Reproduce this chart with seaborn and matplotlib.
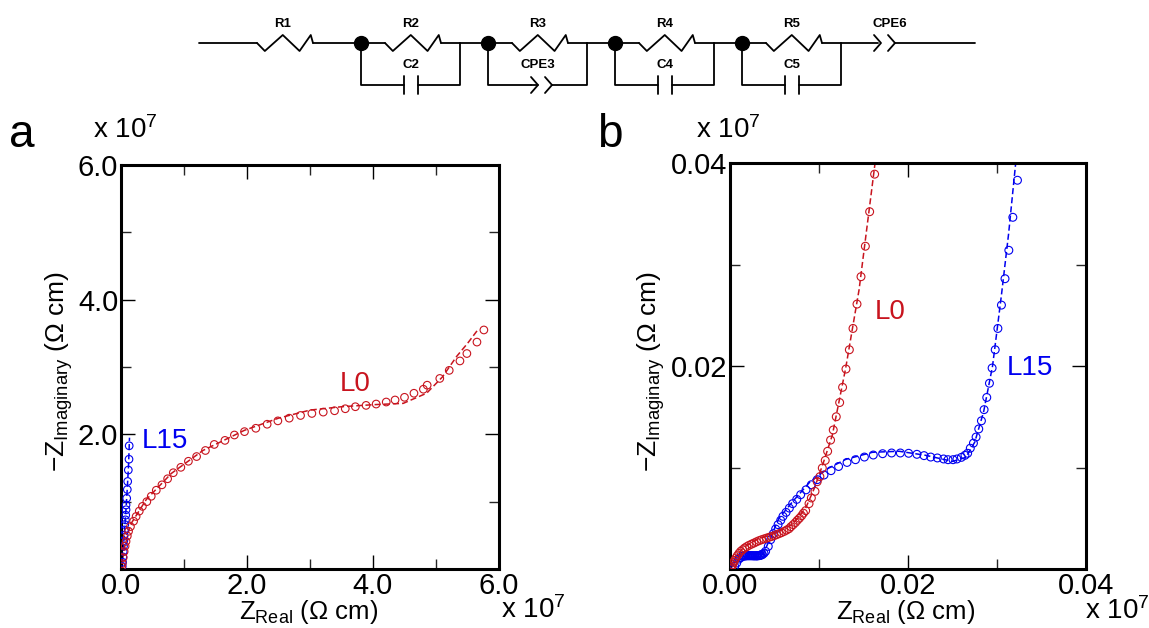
import matplotlib
matplotlib.use('Agg')
import matplotlib.pyplot as plt
import seaborn as sns

# all values in units of 1e7 ohm cm
a_l0_x = [5.76, 5.65, 5.49, 5.38, 5.21, 5.06, 4.86, 4.80, 4.65, 4.50, 4.35, 4.21, 4.05, 3.89, 3.72, 3.56, 3.39, 3.21,
          3.03, 2.85, 2.67, 2.49, 2.32, 2.14, 1.96, 1.80, 1.65, 1.48, 1.34, 1.20, 1.07, 0.95, 0.83, 0.74, 0.65, 0.56,
          0.48, 0.41, 0.34, 0.29, 0.24, 0.20, 0.15, 0.12, 0.10, 0.08, 0.065, 0.05, 0.035, 0.02, 0.01]
a_l0_y = [3.55, 3.37, 3.20, 3.09, 2.95, 2.83, 2.73, 2.67, 2.61, 2.55, 2.51, 2.48, 2.45, 2.43, 2.41, 2.38, 2.35, 2.33,
          2.31, 2.28, 2.24, 2.20, 2.15, 2.09, 2.04, 1.99, 1.91, 1.85, 1.76, 1.67, 1.60, 1.51, 1.43, 1.34, 1.25, 1.17,
          1.08, 1.00, 0.93, 0.86, 0.78, 0.71, 0.63, 0.56, 0.49, 0.41, 0.34, 0.26, 0.17, 0.08, 0.03]
a_l0_fit_x = [0.0, 0.05, 0.15, 0.4, 0.8, 1.3, 1.96, 2.5, 3.0, 3.5, 4.0, 4.48, 4.85, 5.1, 5.33, 5.5, 5.67]
a_l0_fit_y = [0.0, 0.3, 0.66, 1.03, 1.42, 1.76, 2.06, 2.24, 2.36, 2.41, 2.44, 2.46, 2.61, 2.85, 3.16, 3.35, 3.56]
a_l15_x = [0.13, 0.127, 0.116, 0.106, 0.10, 0.09, 0.08, 0.08, 0.075, 0.07, 0.06, 0.055, 0.05, 0.045, 0.04, 0.035, 0.03,
           0.025, 0.02]
a_l15_y = [1.83, 1.63, 1.47, 1.30, 1.18, 1.05, 0.95, 0.88, 0.80, 0.73, 0.66, 0.58, 0.50, 0.42, 0.34, 0.26, 0.18, 0.10,
           0.04]
a_l15_fit_x = [0.0, 0.03, 0.08, 0.10, 0.12, 0.135]
a_l15_fit_y = [0.0, 0.2, 0.9, 1.2, 1.55, 1.95]

b_l0_x = [0.01625, 0.01569, 0.01521, 0.01472, 0.01427, 0.01382, 0.01341, 0.01303, 0.01265, 0.01232, 0.01194, 0.0116,
          0.0113, 0.01097, 0.0107, 0.01037, 0.0101, 0.0098, 0.00955, 0.00914, 0.00888, 0.0085, 0.00825, 0.00805,
          0.0078, 0.00757, 0.00735, 0.0071, 0.00685, 0.00663, 0.00635, 0.00607, 0.00578, 0.0055, 0.00522, 0.00494,
          0.00466, 0.00438, 0.0041, 0.00382, 0.00354, 0.00326, 0.00298, 0.0027, 0.00242, 0.00213, 0.00188, 0.00165,
          0.00142, 0.0012, 0.001, 0.00082, 0.00066, 0.00052, 0.0004, 0.0003, 0.0002, 0.0001]
b_l0_y = [0.0389, 0.0352, 0.0318, 0.0288, 0.0261, 0.0237, 0.0216, 0.0197, 0.0179, 0.0164, 0.015, 0.0137, 0.0127, 0.0116,
          0.0107, 0.00995, 0.0091, 0.0086, 0.00765, 0.007, 0.00644, 0.00575, 0.0055, 0.00525, 0.005, 0.0048, 0.00458,
          0.00437, 0.00417, 0.00397, 0.00383, 0.0037, 0.00358, 0.00348, 0.00338, 0.00328, 0.0032, 0.00312, 0.00304,
          0.00296, 0.00288, 0.00279, 0.00268, 0.00256, 0.00245, 0.00233, 0.0022, 0.00207, 0.0019, 0.00174, 0.00153,
          0.00131, 0.00108, 0.00085, 0.00065, 0.00043, 0.00025, 0.0001]
b_l0_fit_x = [0.0, 0.0005, 0.0015, 0.003, 0.005, 0.007, 0.0085, 0.0095, 0.0105, 0.0115, 0.013, 0.0145, 0.0163]
b_l0_fit_y = [0.0, 0.001, 0.0021, 0.0029, 0.0035, 0.0044, 0.006, 0.008, 0.0105, 0.0132, 0.0198, 0.0275, 0.04]

b_l15_x = [0.0323, 0.03178, 0.03133, 0.0309, 0.0305, 0.0301, 0.0298, 0.02945, 0.02915, 0.02885, 0.02855, 0.02825,
           0.02795, 0.02765, 0.02735, 0.027, 0.0267, 0.0264, 0.026, 0.0255, 0.02506, 0.0245, 0.024, 0.0233, 0.02255,
           0.0218, 0.021, 0.02007, 0.01914, 0.01816, 0.01715, 0.0161, 0.0151, 0.0141, 0.01315, 0.0122, 0.01135,
           0.01056, 0.0098, 0.00914, 0.00854, 0.00794, 0.0075, 0.00704, 0.00667, 0.0063, 0.00595, 0.0057, 0.0054,
           0.00513, 0.00487, 0.00457, 0.0043, 0.004, 0.00382, 0.00363, 0.00345, 0.00325, 0.00307, 0.0029, 0.0027,
           0.0025, 0.00232, 0.00213, 0.00195, 0.00177, 0.00158, 0.00139, 0.0012, 0.001, 0.00075, 0.00052,
           0.0036, 0.0034, 0.0033, 0.0031, 0.0030, 0.0028, 0.0026, 0.0024, 0.0022, 0.0020, 0.0018, 0.0016, 0.0014]
b_l15_y = [0.0383, 0.03465, 0.0314, 0.0286, 0.026, 0.0237, 0.0216, 0.0198, 0.0183, 0.0169, 0.0157, 0.0146, 0.0138, 0.013,
           0.0124, 0.0119, 0.0114, 0.0112, 0.011, 0.01084, 0.01077, 0.01077, 0.01084, 0.01094, 0.01103, 0.01117, 0.0113,
           0.0114, 0.01143, 0.01143, 0.01136, 0.01123, 0.01103, 0.01077, 0.0105, 0.0101, 0.00969, 0.00926, 0.0088,
           0.0083, 0.0078, 0.00732, 0.00686, 0.00644, 0.006, 0.00558, 0.00519, 0.0048, 0.00437, 0.00394, 0.00348,
           0.00289, 0.00223, 0.00174, 0.00155, 0.00141, 0.00135, 0.00131, 0.0013, 0.0013, 0.0013, 0.00131, 0.00131,
           0.00131, 0.00131, 0.0013, 0.00128, 0.00125, 0.00112, 0.00098, 0.00059, 0.00026,
           0.00145, 0.00137, 0.00133, 0.00131, 0.0013, 0.0013, 0.0013, 0.00131, 0.00131, 0.00131, 0.0013, 0.00129, 0.00127]
b_l15_fit_x = [0.0, 0.001, 0.002, 0.003, 0.0038, 0.0045, 0.0055, 0.007, 0.009, 0.011, 0.013, 0.016, 0.019, 0.022, 0.025,
               0.0265, 0.0275, 0.0285, 0.0295, 0.0305, 0.0313, 0.0321]
b_l15_fit_y = [0.0, 0.001, 0.0012, 0.0012, 0.0016, 0.003, 0.005, 0.0066, 0.0086, 0.0099, 0.0108, 0.0115, 0.0116, 0.0112,
               0.0106, 0.011, 0.0125, 0.0155, 0.02, 0.027, 0.033, 0.04]

a_ticks = [0.0, 2.0, 4.0, 6.0]
a_minor = [1.0, 3.0, 5.0]
b_ticks = [0.0, 0.02, 0.04]
b_minor = [0.01, 0.03]

RED = '#c8141e'
BLUE = '#0000f0'
W, H = 1149, 628
WIRE = 1.3

sns.set_style('white')
plt.rcParams['font.family'] = ['Liberation Sans', 'DejaVu Sans']
plt.rcParams['mathtext.default'] = 'regular'


def px_axes(fig, left, right, top, bottom):
    return fig.add_axes([left / W, 1 - bottom / H, (right - left) / W, (bottom - top) / H])


def fig_text(fig, x, y, s, **kwargs):
    fig.text(x / W, 1 - y / H, s, ha='center', va='center', **kwargs)


def draw_curve(ax, x, y, fit_x, fit_y, color, size):
    sns.lineplot(x=fit_x, y=fit_y, ax=ax, color=color, sort=False, estimator=None, linewidth=1.1,
                 linestyle=(0, (4, 2)))
    sns.scatterplot(x=x, y=y, ax=ax, facecolor='none', edgecolor=color, s=size, linewidth=0.8, zorder=3)


def style_panel(ax, ticks, minor, fmt):
    ax.set_xlim(ticks[0], ticks[-1])
    ax.set_ylim(ticks[0], ticks[-1])
    ax.set_xticks(ticks)
    ax.set_yticks(ticks)
    ax.set_xticks(minor, minor=True)
    ax.set_yticks(minor, minor=True)
    ax.set_xticklabels([fmt % t for t in ticks])
    ax.set_yticklabels([''] + [fmt % t for t in ticks[1:]])
    ax.tick_params(which='major', direction='in', length=10, width=1.0, top=True, right=True, bottom=True, left=True,
                   labelsize=21, color='black', labelcolor='black', pad=2)
    ax.tick_params(which='minor', direction='in', length=7, width=1.0, top=True, right=True, bottom=True, left=True)
    for spine in ax.spines.values():
        spine.set_linewidth(2.2)
        spine.set_color('black')


def resistor(ax, x0, x1, y):
    f = [0, 0.14, 0.46, 0.76, 0.96, 1]
    d = [0, 8, -8, 8, -8, 0]
    ax.plot([x0 + (x1 - x0) * v for v in f], [y + v for v in d], color='black', lw=WIRE)


def capacitor(ax, x0, x1, y):
    for x in (x0, x1):
        ax.plot([x, x], [y - 9, y + 9], color='black', lw=WIRE)


def cpe(ax, x0, y):
    for x in (x0, x0 + 14):
        ax.plot([x, x + 7, x], [y - 8, y, y + 8], color='black', lw=WIRE)


def draw_circuit(fig):
    ax = fig.add_axes([0, 0, 1, 1])
    ax.set_xlim(0, W)
    ax.set_ylim(H, 0)
    ax.axis('off')
    y = 43
    low = 85
    lab = dict(fontsize=9.5, fontweight='bold', color='black')
    ax.plot([199, 257], [y, y], color='black', lw=WIRE)
    resistor(ax, 257, 313, y)
    ax.plot([313, 361], [y, y], color='black', lw=WIRE)
    fig_text(fig, 283, 24, 'R1', **lab)
    names = [('R2', 'C2'), ('R3', 'CPE3'), ('R4', 'C4'), ('R5', 'C5')]
    for i, (r_name, c_name) in enumerate(names):
        n = 361 + 127 * i
        j = n + 99
        ax.plot([n, n + 24], [y, y], color='black', lw=WIRE)
        resistor(ax, n + 24, n + 80, y)
        ax.plot([n + 80, j], [y, y], color='black', lw=WIRE)
        if i < 3:
            ax.plot([j, n + 127], [y, y], color='black', lw=WIRE)
        ax.plot([n, n, n + 43], [y, low, low], color='black', lw=WIRE)
        if c_name.startswith('CPE'):
            ax.plot([n + 43, n + 50], [low, low], color='black', lw=WIRE)
            cpe(ax, n + 43, low)
            ax.plot([n + 64, j, j], [low, low, y], color='black', lw=WIRE)
        else:
            capacitor(ax, n + 43, n + 57, low)
            ax.plot([n + 57, j, j], [low, low, y], color='black', lw=WIRE)
        ax.plot([n], [y], 'o', color='black', ms=10)
        fig_text(fig, n + 50, 24, r_name, **lab)
        fig_text(fig, n + 50, 65, c_name, **lab)
    ax.plot([841, 878], [y, y], color='black', lw=WIRE)
    cpe(ax, 874, y)
    ax.plot([895, 975], [y, y], color='black', lw=WIRE)
    fig_text(fig, 890, 24, 'CPE6', **lab)


fig = plt.figure(figsize=(W / 100, H / 100), dpi=100)

ax_a = px_axes(fig, 121, 499, 165, 569)
draw_curve(ax_a, a_l15_x, a_l15_y, a_l15_fit_x, a_l15_fit_y, BLUE, 30)
draw_curve(ax_a, a_l0_x, a_l0_y, a_l0_fit_x, a_l0_fit_y, RED, 30)
style_panel(ax_a, a_ticks, a_minor, '%.1f')
ax_a.text(3.71, 2.75, 'L0', color=RED, fontsize=20, ha='center', va='center')
ax_a.text(0.7, 1.9, 'L15', color=BLUE, fontsize=20, ha='center', va='center')

ax_b = px_axes(fig, 730, 1086, 163, 569)
draw_curve(ax_b, b_l15_x, b_l15_y, b_l15_fit_x, b_l15_fit_y, BLUE, 32)
draw_curve(ax_b, b_l0_x, b_l0_y, b_l0_fit_x, b_l0_fit_y, RED, 32)
style_panel(ax_b, b_ticks, b_minor, '%.2f')
ax_b.text(0.018, 0.0253, 'L0', color=RED, fontsize=20, ha='center', va='center')
ax_b.text(0.0337, 0.0198, 'L15', color=BLUE, fontsize=20, ha='center', va='center')

xlab = r'Z$_{Real}$ ($\Omega$ cm)'
ylab = r'$-$Z$_{Imaginary}$ ($\Omega$ cm)'
exp = r'x 10$^{7}$'
fig_text(fig, 309, 612, xlab, fontsize=18.5, color='black')
fig_text(fig, 906, 612, xlab, fontsize=18.5, color='black')
fig_text(fig, 59, 371, ylab, fontsize=19, rotation=90, color='black')
fig_text(fig, 651, 371, ylab, fontsize=19, rotation=90, color='black')
fig_text(fig, 22, 135, 'a', fontsize=33, color='black')
fig_text(fig, 610, 135, 'b', fontsize=33, color='black')
fig_text(fig, 125, 130, exp, fontsize=20, color='black')
fig_text(fig, 728, 130, exp, fontsize=20, color='black')
fig_text(fig, 533, 610, exp, fontsize=20, color='black')
fig_text(fig, 1117, 611, exp, fontsize=20, color='black')

draw_circuit(fig)

fig.savefig('out.png', dpi=100)
